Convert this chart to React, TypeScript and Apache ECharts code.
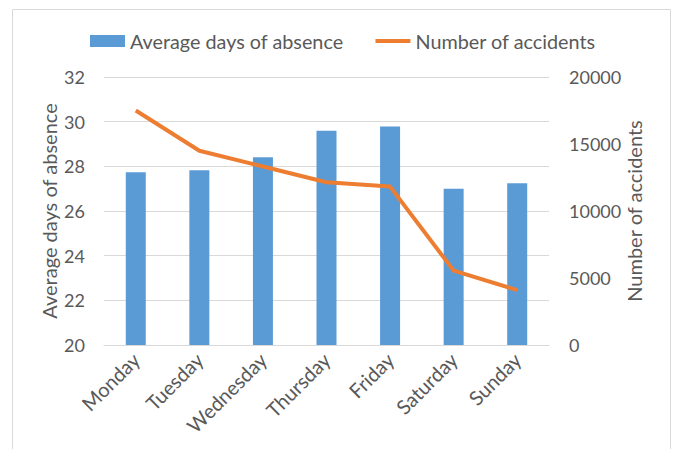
import React, { useEffect, useRef } from "react";
import * as echarts from "echarts";

const days = ["Monday", "Tuesday", "Wednesday", "Thursday", "Friday", "Saturday", "Sunday"];
const avgAbsenceDays = [27.74, 27.83, 28.41, 29.59, 29.78, 27.0, 27.24];
const accidentCounts = [17500, 14500, 13320, 12150, 11820, 5550, 4100];

const FONT = "Lato, 'Noto Sans', sans-serif";
const TEXT = "#595959";
const GRID = "#d9d9d9";
const BLUE = "#5b9bd5";
const ORANGE = "#ed7d31";

export default function App() {
  const ref = useRef<HTMLDivElement>(null);

  useEffect(() => {
    document.body.style.margin = "0";
    if (!ref.current) return;
    const chart = echarts.init(ref.current, undefined, { renderer: "svg" });
    chart.setOption({
      animation: false,
      backgroundColor: "#ffffff",
      textStyle: { fontFamily: FONT, color: TEXT },
      graphic: [
        {
          type: "rect",
          shape: { x: 12.5, y: 9.5, width: 658, height: 500 },
          style: { fill: "none", stroke: GRID, lineWidth: 1 },
          silent: true,
        },
      ],
      legend: {
        left: 85,
        top: 26,
        itemGap: 32,
        itemWidth: 35,
        itemHeight: 12,
        textStyle: { fontFamily: FONT, fontSize: 19.8, color: TEXT },
        data: [
          { name: "Average days of absence", icon: "rect" },
          {
            name: "Number of accidents",
            icon: "path://M0,0h35v4h-35z",
            itemStyle: { color: ORANGE },
          },
        ],
      },
      grid: { left: 104, right: 125, top: 77, bottom: 104, containLabel: false },
      xAxis: {
        type: "category",
        data: days,
        axisLine: { lineStyle: { color: GRID } },
        axisTick: { show: false },
        axisLabel: {
          rotate: 45,
          margin: 11,
          fontFamily: FONT,
          fontSize: 20,
          color: TEXT,
        },
      },
      yAxis: [
        {
          type: "value",
          min: 20,
          max: 32,
          interval: 2,
          name: "Average days of absence",
          nameLocation: "middle",
          nameGap: 45,
          nameMoveOverlap: false,
          nameTextStyle: { fontFamily: FONT, fontSize: 20, color: TEXT },
          axisLine: { show: false },
          axisTick: { show: false },
          axisLabel: { margin: 19, fontFamily: FONT, fontSize: 18, color: TEXT },
          splitLine: { lineStyle: { color: GRID, width: 1 } },
        },
        {
          type: "value",
          min: 0,
          max: 20000,
          interval: 5000,
          name: "Number of accidents",
          nameLocation: "middle",
          nameGap: 75,
          nameMoveOverlap: false,
          nameTextStyle: { fontFamily: FONT, fontSize: 20, color: TEXT },
          axisLine: { show: false },
          axisTick: { show: false },
          axisLabel: {
            margin: 20,
            fontFamily: FONT,
            fontSize: 18,
            color: TEXT,
            formatter: (v: number) => String(v),
          },
          splitLine: { show: false },
        },
      ],
      series: [
        {
          name: "Average days of absence",
          type: "bar",
          yAxisIndex: 0,
          data: avgAbsenceDays,
          barWidth: 20,
          itemStyle: { color: BLUE },
        },
        {
          name: "Number of accidents",
          type: "line",
          yAxisIndex: 1,
          data: accidentCounts,
          symbol: "none",
          lineStyle: { color: ORANGE, width: 4 },
          itemStyle: { color: ORANGE },
        },
      ],
    });
    return () => chart.dispose();
  }, []);

  return <div ref={ref} style={{ width: 674, height: 449 }} />;
}
